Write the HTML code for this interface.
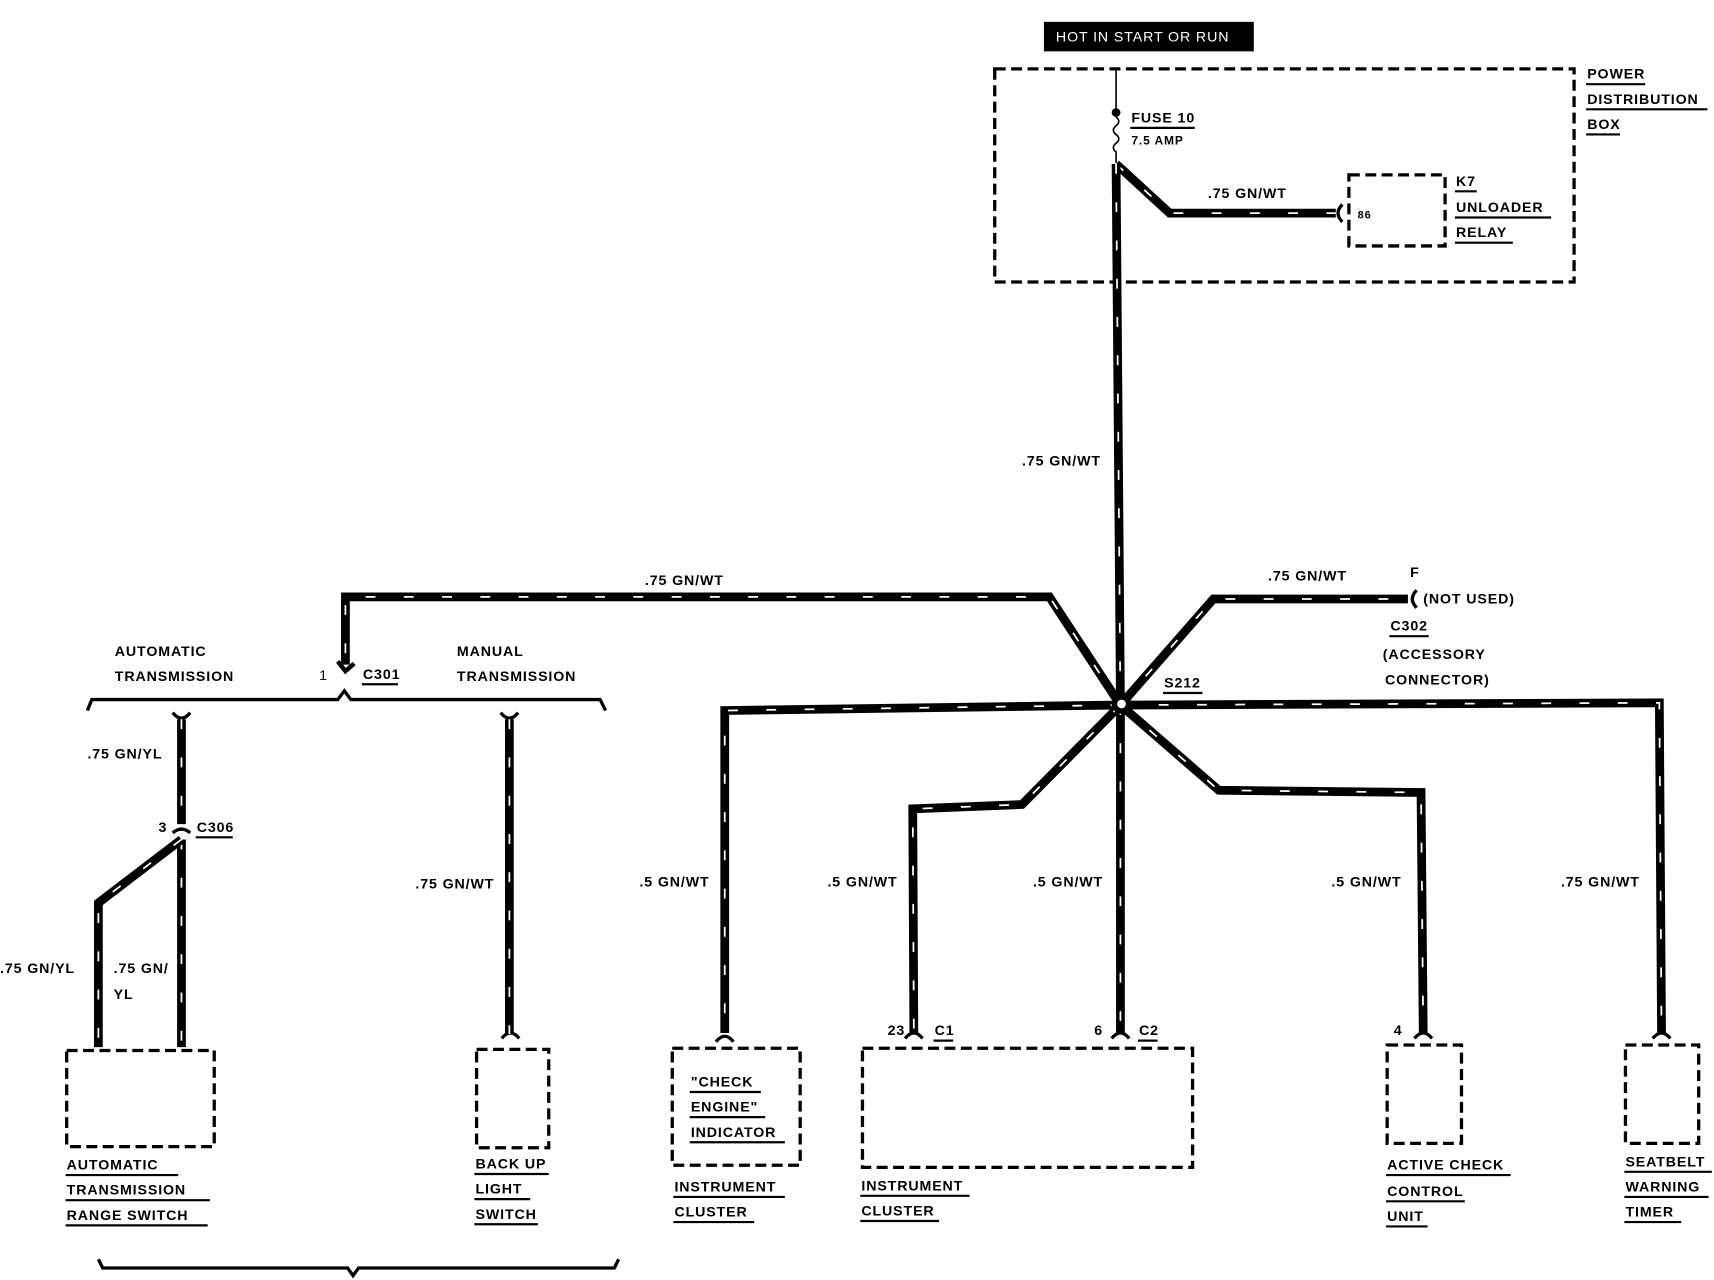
<!DOCTYPE html>
<html><head><meta charset="utf-8"><style>
html,body{margin:0;padding:0;background:#fff;}
svg{display:block;}
text{font-family:"Liberation Sans",sans-serif;font-weight:bold;font-size:13px;fill:#000;letter-spacing:0.8px;}
.w{fill:none;stroke:#000;stroke-width:8;stroke-linejoin:miter;}
.s{fill:none;stroke:#fff;stroke-width:1.6;stroke-dasharray:9 26;}
.d{fill:none;stroke:#000;stroke-width:3;stroke-dasharray:10 5;}
.u{stroke:#000;stroke-width:2;}
</style></head><body>
<svg width="1714" height="1280" viewBox="0 0 1568 1171" preserveAspectRatio="none" xmlns="http://www.w3.org/2000/svg">
<rect width="1568" height="1171" fill="#fff"/>
<!-- top box -->
<rect x="955" y="20" width="192" height="27" fill="#000"/>
<text x="966" y="38" style="fill:#fff;font-weight:normal;font-size:13px">HOT IN START OR RUN</text>
<rect x="910" y="63" width="530" height="195" class="d"/>
<text x="1452" y="72">POWER</text><line x1="1451" y1="77" x2="1505" y2="77" class="u"/>
<text x="1452" y="95">DISTRIBUTION</text><line x1="1451" y1="100" x2="1562" y2="100" class="u"/>
<text x="1452" y="118">BOX</text><line x1="1451" y1="123" x2="1482" y2="123" class="u"/>
<line x1="1021" y1="63" x2="1021" y2="102" stroke="#000" stroke-width="1.5"/>
<circle cx="1021" cy="103" r="4" fill="#000"/>
<path d="M1021 107 q5 4 0 8 q-5 4 0 8 q5 4 0 8 q-5 4 0 8 l0 10" fill="none" stroke="#000" stroke-width="1.5"/>
<text x="1035" y="112">FUSE 10</text><line x1="1034" y1="117" x2="1093" y2="117" class="u"/>
<text x="1035" y="132" style="font-size:11px">7.5 AMP</text>
<rect x="1234" y="160" width="88" height="65" class="d"/>
<text x="1242" y="200" style="font-size:10px">86</text>
<text x="1332" y="170">K7</text><line x1="1331" y1="175" x2="1351" y2="175" class="u"/>
<text x="1332" y="194">UNLOADER</text><line x1="1331" y1="199" x2="1419" y2="199" class="u"/>
<text x="1332" y="217">RELAY</text><line x1="1331" y1="222" x2="1384" y2="222" class="u"/>
<text x="1105" y="181">.75 GN/WT</text>
<path d="M1021 150 L1070 195 L1222 195" class="w"/><path d="M1021 150 L1070 195 L1222 195" class="s"/>
<path d="M1228 187 q-8 8 0 16" fill="none" stroke="#000" stroke-width="3"/>
<!-- main vertical -->
<path d="M1021 150 L1025 645" class="w"/><path d="M1021 150 L1025 645" class="s"/>
<text x="935" y="426">.75 GN/WT</text>
<!-- branches from S212 -->
<path d="M1025 645 L960 546 L316 546 L316 608" class="w"/><path d="M1025 645 L960 546 L316 546 L316 608" class="s"/>
<path d="M309 605 L316 614 L324 607" fill="none" stroke="#000" stroke-width="4"/>
<text x="590" y="535">.75 GN/WT</text>
<path d="M1025 645 L1110 548 L1288 548" class="w"/><path d="M1025 645 L1110 548 L1288 548" class="s"/>
<path d="M1296 540 q-8 8 0 16" fill="none" stroke="#000" stroke-width="3"/>
<text x="1160" y="531">.75 GN/WT</text>
<text x="1290" y="528">F</text>
<text x="1302" y="552">(NOT USED)</text>
<text x="1272" y="577">C302</text><line x1="1271" y1="582" x2="1307" y2="582" class="u"/>
<text x="1265" y="603">(ACCESSORY</text>
<text x="1267" y="626">CONNECTOR)</text>
<text x="1065" y="629">S212</text><line x1="1064" y1="634" x2="1100" y2="634" class="u"/>
<path d="M1025 645 L663 650 L663 945" class="w"/><path d="M1025 645 L663 650 L663 945" class="s"/>
<path d="M1025 645 L1518 643 L1520 945" class="w"/><path d="M1025 645 L1518 643 L1520 945" class="s"/>
<path d="M1025 645 L935 736 L835 740 L836 945" class="w"/><path d="M1025 645 L935 736 L835 740 L836 945" class="s"/>
<path d="M1025 645 L1025 945" class="w"/><path d="M1025 645 L1025 945" class="s"/>
<path d="M1025 645 L1115 723 L1300 725 L1302 945" class="w"/><path d="M1025 645 L1115 723 L1300 725 L1302 945" class="s"/>
<circle cx="1026" cy="644" r="9" fill="#000"/><circle cx="1026" cy="644" r="4" fill="#fff"/>
<text x="585" y="811">.5 GN/WT</text>
<text x="757" y="811">.5 GN/WT</text>
<text x="945" y="811">.5 GN/WT</text>
<text x="1218" y="811">.5 GN/WT</text>
<text x="1428" y="811">.75 GN/WT</text>
<!-- connectors bottom -->
<g fill="none" stroke="#000" stroke-width="3">
<path d="M655 953 q8 -10 16 0"/><path d="M828 950 q8 -10 16 0"/><path d="M1017 950 q8 -10 16 0"/><path d="M1294 950 q8 -10 16 0"/><path d="M1512 950 q8 -10 16 0"/>
</g>
<text x="812" y="947">23</text><text x="855" y="947">C1</text><line x1="854" y1="952" x2="872" y2="952" class="u"/>
<text x="1001" y="947">6</text><text x="1042" y="947">C2</text><line x1="1041" y1="952" x2="1059" y2="952" class="u"/>
<text x="1275" y="947">4</text>
<rect x="615" y="959" width="117" height="107" class="d"/>
<text x="632" y="994">"CHECK</text><line x1="631" y1="999" x2="696" y2="999" class="u"/>
<text x="632" y="1017">ENGINE"</text><line x1="631" y1="1022" x2="700" y2="1022" class="u"/>
<text x="632" y="1040">INDICATOR</text><line x1="631" y1="1045" x2="718" y2="1045" class="u"/>
<text x="617" y="1090">INSTRUMENT</text><line x1="616" y1="1095" x2="718" y2="1095" class="u"/>
<text x="617" y="1113">CLUSTER</text><line x1="616" y1="1118" x2="690" y2="1118" class="u"/>
<rect x="789" y="959" width="302" height="109" class="d"/>
<text x="788" y="1089">INSTRUMENT</text><line x1="787" y1="1094" x2="887" y2="1094" class="u"/>
<text x="788" y="1112">CLUSTER</text><line x1="787" y1="1117" x2="859" y2="1117" class="u"/>
<rect x="1269" y="956" width="68" height="90" class="d"/>
<text x="1269" y="1070">ACTIVE CHECK</text><line x1="1268" y1="1075" x2="1382" y2="1075" class="u"/>
<text x="1269" y="1094">CONTROL</text><line x1="1268" y1="1099" x2="1340" y2="1099" class="u"/>
<text x="1269" y="1117">UNIT</text><line x1="1268" y1="1122" x2="1306" y2="1122" class="u"/>
<rect x="1487" y="956" width="67" height="90" class="d"/>
<text x="1487" y="1067">SEATBELT</text><line x1="1486" y1="1072" x2="1566" y2="1072" class="u"/>
<text x="1487" y="1090">WARNING</text><line x1="1486" y1="1095" x2="1563" y2="1095" class="u"/>
<text x="1487" y="1113">TIMER</text><line x1="1486" y1="1118" x2="1538" y2="1118" class="u"/>
<!-- left section -->
<text x="105" y="600">AUTOMATIC</text>
<text x="105" y="623">TRANSMISSION</text>
<text x="418" y="600">MANUAL</text>
<text x="418" y="623">TRANSMISSION</text>
<text x="292" y="622" style="font-weight:normal">1</text>
<text x="332" y="621">C301</text><line x1="331" y1="626" x2="364" y2="626" class="u"/>
<path d="M80 650 L84 640 L309 640 L315 632 L321 640 L549 640 L554 650" fill="none" stroke="#000" stroke-width="3"/>
<path d="M90 1152 L94 1160 L318 1160 L323 1167 L328 1160 L562 1160 L566 1152" fill="none" stroke="#000" stroke-width="3"/>
<g fill="none" stroke="#000" stroke-width="3">
<path d="M158 652 q8 10 16 0"/><path d="M458 652 q8 10 16 0"/><path d="M459 950 q8 -10 16 0"/>
<path d="M158 762 q8 -7 16 0"/>
</g>
<path d="M166 658 L166 754" class="w"/><path d="M166 658 L166 754" class="s"/>
<path d="M166 768 L166 958" class="w"/><path d="M166 768 L166 958" class="s"/>
<path d="M166 768 L90 826 L90 958" class="w"/><path d="M166 768 L90 826 L90 958" class="s"/>
<text x="145" y="761">3</text>
<text x="180" y="761">C306</text><line x1="179" y1="766" x2="213" y2="766" class="u"/>
<text x="80" y="694">.75 GN/YL</text>
<text x="0" y="890">.75 GN/YL</text>
<text x="104" y="890">.75 GN/</text>
<text x="104" y="914">YL</text>
<path d="M466 658 L466 946" class="w"/><path d="M466 658 L466 946" class="s"/>
<text x="380" y="813">.75 GN/WT</text>
<rect x="61" y="961" width="135" height="88" class="d"/>
<text x="61" y="1070">AUTOMATIC</text><line x1="60" y1="1075" x2="163" y2="1075" class="u"/>
<text x="61" y="1093">TRANSMISSION</text><line x1="60" y1="1098" x2="192" y2="1098" class="u"/>
<text x="61" y="1116">RANGE SWITCH</text><line x1="60" y1="1121" x2="190" y2="1121" class="u"/>
<rect x="436" y="960" width="66" height="90" class="d"/>
<text x="435" y="1069">BACK UP</text><line x1="434" y1="1074" x2="502" y2="1074" class="u"/>
<text x="435" y="1092">LIGHT</text><line x1="434" y1="1097" x2="485" y2="1097" class="u"/>
<text x="435" y="1115">SWITCH</text><line x1="434" y1="1120" x2="492" y2="1120" class="u"/>
</svg>
</body></html>
